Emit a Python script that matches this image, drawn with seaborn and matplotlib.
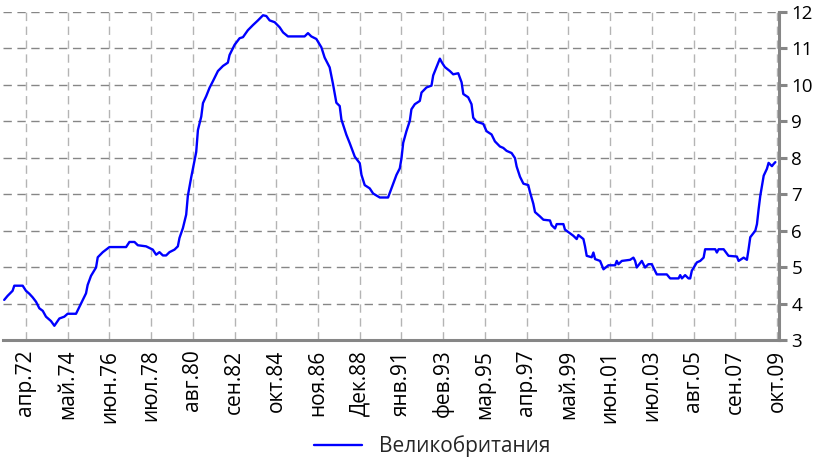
import pandas as pd
import seaborn as sns
import matplotlib.pyplot as plt

# UK unemployment rate, %
months = [
    "1971-03", "1971-05", "1971-08", "1971-09", "1972-02", "1972-04", "1972-06", "1972-08",
    "1972-10", "1972-12", "1973-02", "1973-04", "1973-07", "1973-09", "1973-12", "1974-03",
    "1974-05", "1974-10", "1974-12", "1975-04", "1975-05", "1975-07", "1975-10", "1975-11",
    "1976-02", "1976-06", "1977-04", "1977-06", "1977-09", "1977-11", "1978-04", "1978-08",
    "1978-10", "1978-12", "1979-02", "1979-04", "1979-06", "1979-09", "1979-11", "1979-12",
    "1980-02", "1980-04", "1980-05", "1980-07", "1980-10", "1980-11", "1981-01", "1981-02",
    "1981-04", "1981-06", "1981-08", "1981-11", "1982-02", "1982-05", "1982-06", "1982-09",
    "1982-12", "1983-02", "1983-05", "1983-08", "1983-11", "1984-02", "1984-04", "1984-06",
    "1984-09", "1984-12", "1985-02", "1985-05", "1986-03", "1986-05", "1986-07", "1986-10",
    "1987-01", "1987-03", "1987-06", "1987-08", "1987-10", "1987-12", "1988-01", "1988-04",
    "1988-06", "1988-09", "1988-12", "1989-01", "1989-03", "1989-06", "1989-08", "1989-12",
    "1990-05", "1990-07", "1990-08", "1990-10", "1990-12", "1991-01", "1991-02", "1991-04",
    "1991-06", "1991-07", "1991-09", "1991-12", "1992-01", "1992-04", "1992-07", "1992-08",
    "1992-10", "1992-12", "1993-01", "1993-03", "1993-06", "1993-08", "1993-10", "1993-11",
    "1994-01", "1994-02", "1994-05", "1994-07", "1994-08", "1994-10", "1995-02", "1995-04",
    "1995-07", "1995-09", "1995-12", "1996-02", "1996-04", "1996-07", "1996-09", "1996-10",
    "1996-12", "1997-02", "1997-05", "1997-06", "1997-08", "1997-09", "1997-12", "1998-02",
    "1998-06", "1998-07", "1998-09", "1998-10", "1999-02", "1999-03", "1999-06", "1999-08",
    "1999-10", "1999-11", "2000-02", "2000-03", "2000-04", "2000-07", "2000-08", "2000-09",
    "2000-12", "2001-02", "2001-05", "2001-09", "2001-10", "2001-11", "2002-01", "2002-06",
    "2002-08", "2002-09", "2002-10", "2003-01", "2003-03", "2003-05", "2003-07", "2003-10",
    "2004-04", "2004-06", "2004-11", "2004-12", "2005-01", "2005-03", "2005-05", "2005-06",
    "2005-07", "2005-10", "2005-12", "2006-02", "2006-03", "2006-09", "2006-10", "2006-11",
    "2007-02", "2007-05", "2007-10", "2007-11", "2008-02", "2008-04", "2008-05", "2008-06",
    "2008-09", "2008-10", "2008-11", "2008-12", "2009-01", "2009-02", "2009-04", "2009-05",
    "2009-07", "2009-08", "2009-09",
]
rate = [
    4.10, 4.21, 4.35, 4.49, 4.49, 4.35, 4.27, 4.17,
    4.05, 3.87, 3.80, 3.64, 3.52, 3.39, 3.59, 3.64,
    3.72, 3.72, 3.91, 4.28, 4.51, 4.76, 4.99, 5.27,
    5.41, 5.55, 5.55, 5.69, 5.69, 5.60, 5.57, 5.48,
    5.34, 5.41, 5.32, 5.32, 5.41, 5.48, 5.57, 5.80,
    6.07, 6.44, 6.95, 7.46, 8.16, 8.76, 9.13, 9.50,
    9.69, 9.92, 10.10, 10.38, 10.52, 10.61, 10.82, 11.10,
    11.28, 11.31, 11.50, 11.64, 11.77, 11.91, 11.89, 11.77,
    11.72, 11.58, 11.44, 11.33, 11.33, 11.42, 11.33, 11.26,
    11.03, 10.75, 10.48, 10.02, 9.51, 9.42, 9.05, 8.63,
    8.40, 8.03, 7.85, 7.53, 7.25, 7.16, 7.02, 6.91,
    6.91, 7.16, 7.29, 7.53, 7.71, 7.99, 8.41, 8.73,
    9.01, 9.33, 9.47, 9.56, 9.79, 9.93, 9.98, 10.26,
    10.49, 10.72, 10.63, 10.49, 10.38, 10.29, 10.31, 10.32,
    10.07, 9.75, 9.66, 9.47, 9.10, 8.99, 8.93, 8.73,
    8.64, 8.45, 8.31, 8.27, 8.19, 8.13, 7.99, 7.76,
    7.48, 7.29, 7.25, 7.06, 6.74, 6.51, 6.39, 6.30,
    6.28, 6.15, 6.06, 6.18, 6.18, 6.03, 5.93, 5.86,
    5.77, 5.88, 5.77, 5.57, 5.31, 5.27, 5.40, 5.22,
    5.17, 4.94, 5.05, 5.05, 5.17, 5.08, 5.17, 5.20,
    5.26, 5.17, 4.99, 5.17, 4.99, 5.08, 5.08, 4.80,
    4.80, 4.69, 4.69, 4.78, 4.69, 4.78, 4.69, 4.69,
    4.90, 5.13, 5.17, 5.26, 5.49, 5.49, 5.40, 5.49,
    5.49, 5.31, 5.29, 5.17, 5.26, 5.20, 5.49, 5.82,
    6.00, 6.18, 6.60, 6.96, 7.24, 7.51, 7.70, 7.86,
    7.77, 7.83, 7.88,
]

tick_months = [
    "1972-04", "1974-05", "1976-06", "1978-07", "1980-08", "1982-09", "1984-10",
    "1986-11", "1988-12", "1991-01", "1993-02", "1995-03", "1997-04", "1999-05",
    "2001-06", "2003-07", "2005-08", "2007-09", "2009-10",
]
tick_labels = [
    "апр.72", "май.74", "июн.76", "июл.78", "авг.80", "сен.82", "окт.84",
    "ноя.86", "Дек.88", "янв.91", "фев.93", "мар.95", "апр.97", "май.99",
    "июн.01", "июл.03", "авг.05", "сен.07", "окт.09",
]
series_name = "Великобритания"

sns.set_style("white")
plt.rcParams['font.family'] = ['Open Sans', 'DejaVu Sans']

df = pd.DataFrame({"date": pd.to_datetime(months), "rate": rate})

fig = plt.figure(figsize=(8.27, 4.62), dpi=100)
ax = fig.add_axes([3 / 827, 1 - 340 / 462, 776 / 827, 328 / 462])

sns.lineplot(data=df, x="date", y="rate", color="#0000ff", linewidth=1.7,
             label=series_name, ax=ax, legend=False)

ax.set_xlim(pd.Timestamp("1971-02-07"), pd.Timestamp("2009-11-07"))
ax.set_ylim(3, 12)
ax.set_yticks(range(3, 13))
ax.set_xticks(pd.to_datetime(tick_months))
ax.set_xticklabels(tick_labels, rotation=90)
ax.set_xlabel("")
ax.set_ylabel("")

ax.grid(axis="y", color="#868686", linestyle=(0, (6, 4)), linewidth=1)
ax.grid(axis="x", color="#b4b4b4", linestyle=(0, (6, 4)), linewidth=1)

for s in ["top", "left"]:
    ax.spines[s].set_visible(False)
for s in ["bottom", "right"]:
    ax.spines[s].set_color("#868686")
    ax.spines[s].set_linewidth(2.2)

ax.yaxis.tick_right()
ax.tick_params(axis="y", direction="out", length=6, width=2.2, color="#868686",
               labelsize=13.5, pad=3, labelcolor="black")
ax.tick_params(axis="x", direction="inout", length=10, width=2.2, color="#868686",
               labelsize=15, pad=2, labelcolor="black")

ax.legend(loc="center", bbox_to_anchor=(432 / 827, 1 - 446 / 462),
          bbox_transform=fig.transFigure, frameon=False, handlelength=2.3,
          fontsize=15)

fig.savefig("out.png", dpi=100)
